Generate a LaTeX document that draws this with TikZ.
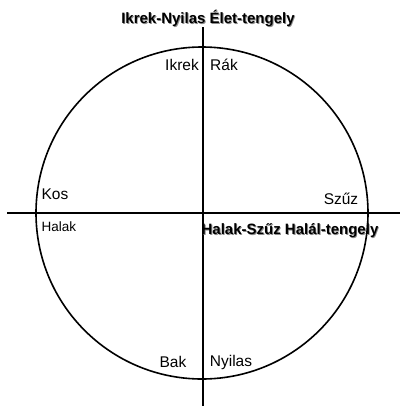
\documentclass[tikz,border=0pt]{standalone}
\usepackage{fontspec}
\setmainfont{Liberation Sans}
\newcommand{\shadowtext}[1]{\makebox[0pt][l]{\raisebox{-0.9pt}{\hspace{0.9pt}\textcolor{black!45}{#1}}}#1}
\tikzset{
  sign/.style={inner sep=0pt, font=\fontsize{15.5}{17}\selectfont},
  axislabel/.style={inner sep=0pt, font=\fontsize{15}{17}\selectfont\bfseries},
}
\begin{document}
\begin{tikzpicture}[x=1pt, y=-1pt]
\useasboundingbox (0,0) rectangle (405,416);
\coordinate (o) at (202,213);
\coordinate (w) at (7,213);
\coordinate (e) at (400,213);
\coordinate (n) at (203,27);
\coordinate (s) at (203,406);
\draw[line width=1.6pt] (o) circle[radius=166];
\draw[line width=1.6pt] (w) -- (e);
\draw[line width=1.6pt] (n) -- (s);
\node[axislabel] (elet) at (208,19) {\shadowtext{Ikrek-Nyilas Élet-tengely}};
\node[axislabel] (halal) at (290,231) {\shadowtext{Halak-Szűz Halál-tengely}};
\node[sign] (ikrek) at (182,65) {Ikrek};
\node[sign] (rak) at (224,65) {Rák};
\node[sign] (kos) at (55,194) {Kos};
\node[sign, font=\fontsize{13.5}{15}\selectfont] (halak) at (59,227) {Halak};
\node[sign] (szuz) at (341,199) {Szűz};
\node[sign] (bak) at (173,362) {Bak};
\node[sign] (nyilas) at (231,362) {Nyilas};
\end{tikzpicture}
\end{document}
